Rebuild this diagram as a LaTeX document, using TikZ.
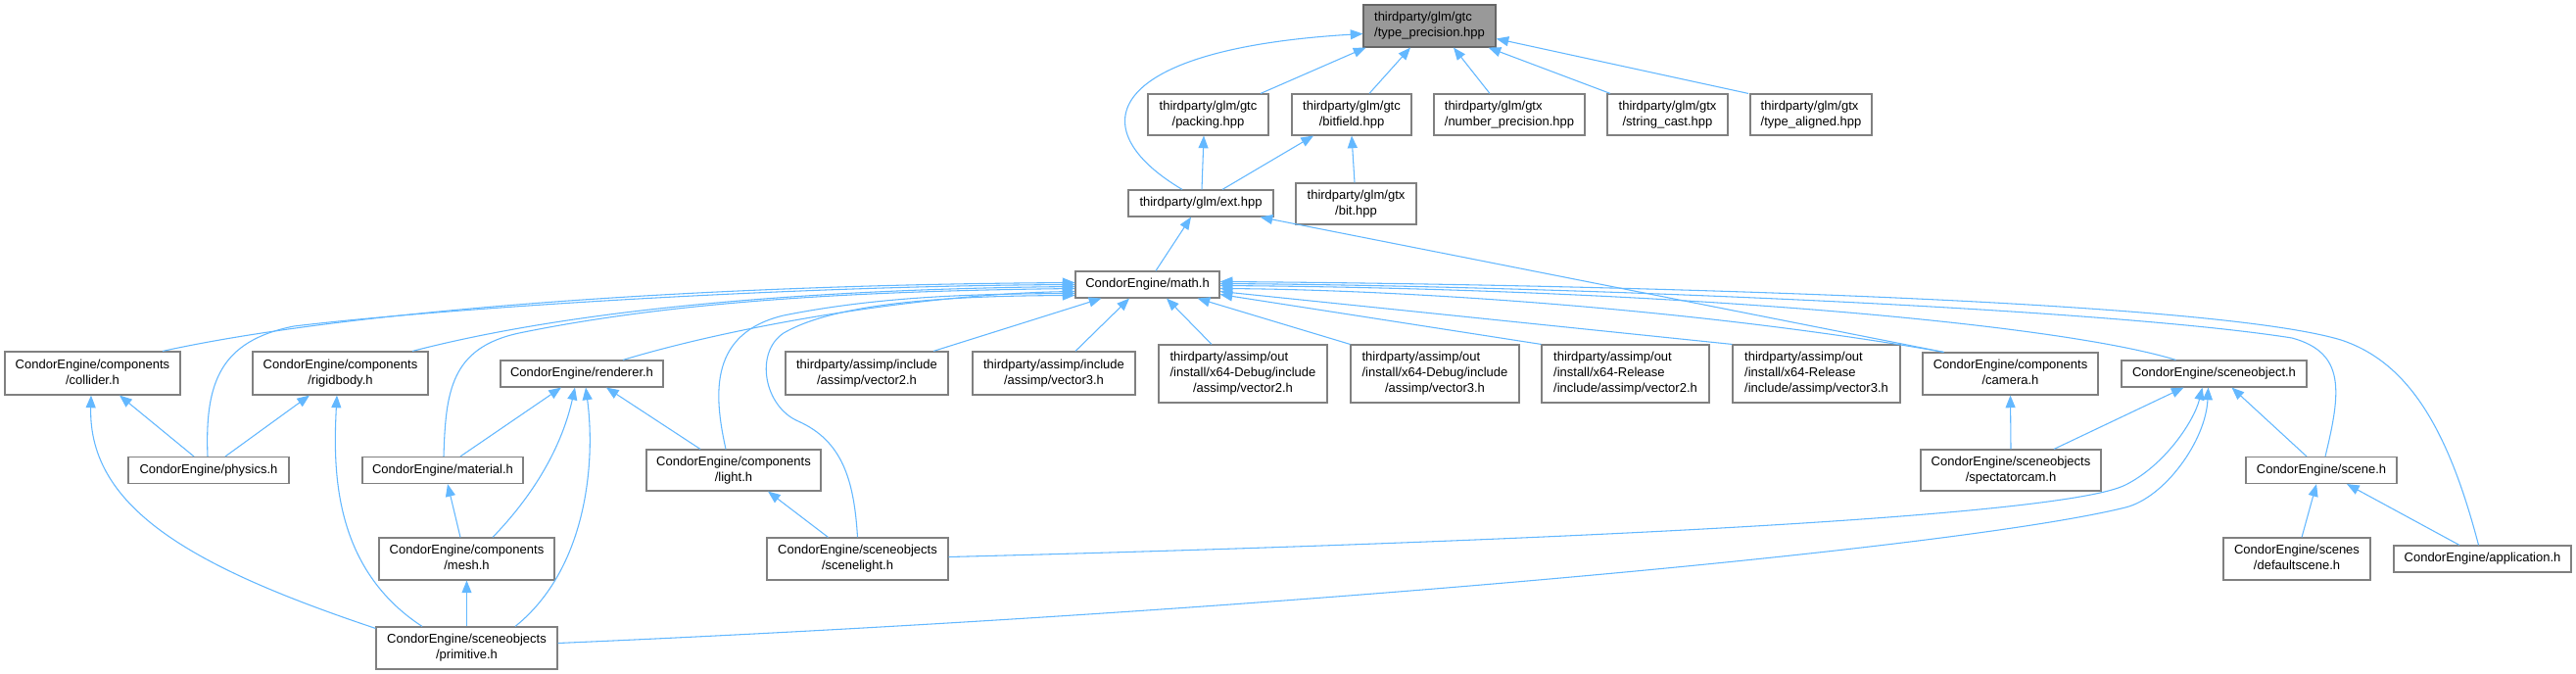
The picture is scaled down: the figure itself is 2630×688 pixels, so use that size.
\documentclass[tikz,border=0pt]{standalone}
\usepackage{fontspec}
\setmainfont{Liberation Sans}
\usetikzlibrary{arrows.meta,calc}
\definecolor{edgec}{HTML}{63B8FF}
\definecolor{bordc}{HTML}{808080}
\definecolor{rootc}{HTML}{999999}
\newcommand{\twol}[2]{\begin{tabular}{@{}l@{}}#1\\\multicolumn{1}{@{}c@{}}{#2}\end{tabular}}
\newcommand{\threel}[3]{\begin{tabular}{@{}l@{}}#1\\#2\\\multicolumn{1}{@{}c@{}}{#3}\end{tabular}}
\begin{document}
\begin{tikzpicture}[x=0.75pt,y=-0.75pt,
  box/.style={draw=bordc, line width=0.85pt, fill=white, inner sep=0pt, font=\fontsize{9.75}{12}\selectfont, text=black},
  bw/.style={minimum width=#1*0.75pt},
  bh/.style={minimum height=#1*0.75pt},
  dep/.style={draw=edgec, line width=0.8pt, -{Triangle[length=9.5pt,width=7.5pt]}}]
\fill[white] (0,0) rectangle (2630,688);
\useasboundingbox (0,0) rectangle (2630,688);

\node[box,fill=rootc,draw=black!60,bw=135,bh=43] (tp) at (1459.5,26.5) {\twol{thirdparty/glm/gtc}{/type\_precision.hpp}};
\node[box,bw=123,bh=42] (packing) at (1233.5,117) {\twol{thirdparty/glm/gtc}{/packing.hpp}};
\node[box,bw=122,bh=42] (bitfield) at (1380,117) {\twol{thirdparty/glm/gtc}{/bitfield.hpp}};
\node[box,bw=154,bh=42] (numprec) at (1541,117) {\twol{thirdparty/glm/gtx}{/number\_precision.hpp}};
\node[box,bw=123,bh=42] (strcast) at (1702.5,117) {\twol{thirdparty/glm/gtx}{/string\_cast.hpp}};
\node[box,bw=124,bh=42] (typealigned) at (1849,117) {\twol{thirdparty/glm/gtx}{/type\_aligned.hpp}};
\node[box,bw=148,bh=27] (ext) at (1226,207.5) {thirdparty/glm/ext.hpp};
\node[box,bw=123,bh=42] (bit) at (1384.5,208) {\twol{thirdparty/glm/gtx}{/bit.hpp}};
\node[box,bw=147,bh=27] (math) at (1171.5,290.5) {CondorEngine/math.h};
\node[box,bw=179,bh=44] (collider) at (94.5,381) {\twol{CondorEngine/components}{/collider.h}};
\node[box,bw=179,bh=44] (rigidbody) at (347.5,381) {\twol{CondorEngine/components}{/rigidbody.h}};
\node[box,bw=166,bh=27] (renderer) at (594,381.5) {CondorEngine/renderer.h};
\node[box,bw=166,bh=44] (vectwoinc) at (885,381) {\twol{thirdparty/assimp/include}{/assimp/vector2.h}};
\node[box,bw=166,bh=44] (vecthreeinc) at (1076,381) {\twol{thirdparty/assimp/include}{/assimp/vector3.h}};
\node[box,bw=172,bh=59] (dbgtwo) at (1269,381.5) {\threel{thirdparty/assimp/out}{/install/x64-Debug/include}{/assimp/vector2.h}};
\node[box,bw=172,bh=59] (dbgthree) at (1465,381.5) {\threel{thirdparty/assimp/out}{/install/x64-Debug/include}{/assimp/vector3.h}};
\node[box,bw=171,bh=59] (reltwo) at (1659.5,381.5) {\threel{thirdparty/assimp/out}{/install/x64-Release}{/include/assimp/vector2.h}};
\node[box,bw=171,bh=59] (relthree) at (1854.5,381.5) {\threel{thirdparty/assimp/out}{/install/x64-Release}{/include/assimp/vector3.h}};
\node[box,bw=179,bh=43] (camera) at (2052.5,381.5) {\twol{CondorEngine/components}{/camera.h}};
\node[box,bw=189,bh=27] (sceneobj) at (2260.5,381.5) {CondorEngine/sceneobject.h};
\node[box,bw=164,bh=27] (physics) at (213,480) {CondorEngine/physics.h};
\node[box,bw=164,bh=27] (material) at (452,480) {CondorEngine/material.h};
\node[box,bw=178,bh=42] (light) at (749,480) {\twol{CondorEngine/components}{/light.h}};
\node[box,bw=184,bh=42] (spectator) at (2053,480) {\twol{CondorEngine/sceneobjects}{/spectatorcam.h}};
\node[box,bw=154,bh=27] (scene) at (2370,480) {CondorEngine/scene.h};
\node[box,bw=179,bh=43] (mesh) at (476.5,570.5) {\twol{CondorEngine/components}{/mesh.h}};
\node[box,bw=185,bh=43] (scenelight) at (875.5,570.5) {\twol{CondorEngine/sceneobjects}{/scenelight.h}};
\node[box,bw=150,bh=43] (defaultscene) at (2345,570.5) {\twol{CondorEngine/scenes}{/defaultscene.h}};
\node[box,bw=181,bh=27] (application) at (2534.5,570.5) {CondorEngine/application.h};
\node[box,bw=185,bh=43] (primitive) at (476.5,661.5) {\twol{CondorEngine/sceneobjects}{/primitive.h}};

% glm
\draw[dep] ($(packing.north)+(53.5,0)$) -- ($(tp.south west)+(3,0)$);
\draw[dep] ($(bitfield.north)+(18,0)$) -- ($(tp.south)+(-19.5,0)$);
\draw[dep] ($(numprec.north)+(-20,0)$) -- ($(tp.south)+(24.5,0)$);
\draw[dep] ($(strcast.north)+(-58.5,0)$) -- ($(tp.south east)+(-8,0)$);
\draw[dep] ($(typealigned.north)+(-64,0)$) -- ($(tp.east)+(0,13)$);
\draw[dep] ($(ext.north)+(-19,0)$) .. controls (1100,130) and (1130,50) .. ($(tp.west)+(0,8)$);
\draw[dep] ($(ext.north)+(1,0)$) -- ($(packing.south)+(-4.5,0)$);
\draw[dep] ($(ext.north)+(22,0)$) -- ($(bitfield.south)+(-39,0)$);
\draw[dep] ($(bit.north)+(-1.5,0)$) -- (bitfield.south);
\draw[dep] ($(math.north)+(8.5,0)$) -- ($(ext.south)+(-10,0)$);
\draw[dep] ($(camera.north)+(-68,0)$) -- ($(ext.south east)+(-14,0)$);

% into math.h from the left
\draw[dep] ($(collider.north)+(71.5,0)$) .. controls (350,318) and (700,291) .. ($(math.west)+(0,-2)$);
\draw[dep] ($(physics.north)+(-1,0)$) .. controls (209,390) and (225,348) .. (300,333) .. controls (450,315) and (800,292) .. (math.west);
\draw[dep] ($(rigidbody.north)+(73.5,0)$) .. controls (600,312) and (850,295) .. ($(math.west)+(0,2)$);
\draw[dep] ($(material.north)+(1,0)$) .. controls (455,400) and (460,355) .. (530,340) .. controls (700,305) and (900,297) .. ($(math.west)+(0,4)$);
\draw[dep] ($(renderer.north)+(42,0)$) .. controls (760,330) and (950,300) .. ($(math.west)+(0,7)$);
\draw[dep] ($(light.north)+(-8,0)$) .. controls (728,400) and (725,340) .. (800,322) .. controls (900,302) and (1000,300) .. ($(math.west)+(0,9)$);
\draw[dep] (scenelight.north) .. controls (872,490) and (860,450) .. (815,430) .. controls (780,415) and (770,360) .. (800,340) .. controls (860,305) and (1000,302) .. ($(math.west)+(0,11)$);

% into math.h from below
\draw[dep] ($(vectwoinc.north)+(68,0)$) -- ($(math.south west)+(27,0)$);
\draw[dep] ($(vecthreeinc.north)+(22,0)$) -- ($(math.south)+(-18.5,0)$);
\draw[dep] ($(dbgtwo.north)+(-32,0)$) -- ($(math.south)+(19.5,0)$);
\draw[dep] (dbgthree.north west) -- ($(math.south east)+(-23,0)$);

% into math.h from the right
\draw[dep] (reltwo.north west) -- ($(math.east)+(0,10)$);
\draw[dep] (relthree.north west) -- ($(math.east)+(0,7)$);
\draw[dep] ($(camera.north)+(-68,0)$) .. controls (1750,318) and (1450,296) .. ($(math.east)+(0,4)$);
\draw[dep] ($(sceneobj.north)+(-39,0)$) .. controls (2100,330) and (1700,295) .. ($(math.east)+(0,1)$);
\draw[dep] ($(scene.north)+(4,0)$) .. controls (2390,400) and (2395,360) .. (2340,345) .. controls (2150,315) and (1600,292) .. ($(math.east)+(0,-1)$);
\draw[dep] ($(application.north)+(-4,0)$) .. controls (2500,440) and (2460,370) .. (2390,347) .. controls (2250,305) and (1600,290) .. ($(math.east)+(0,-3)$);

% lower part
\draw[dep] ($(physics.north)+(-15,0)$) -- ($(collider.south)+(27.5,0)$);
\draw[dep] ($(physics.north)+(17,0)$) -- ($(rigidbody.south)+(-31.5,0)$);
\draw[dep] ($(primitive.north west)+(0,2)$) .. controls (200,580) and (90,520) .. ($(collider.south)+(-1.5,0)$);
\draw[dep] ($(primitive.north)+(-45.5,0)$) .. controls (340,580) and (340,480) .. ($(rigidbody.south)+(-3.5,0)$);
\draw[dep] ($(material.north)+(18,0)$) -- ($(renderer.south)+(-21,0)$);
\draw[dep] ($(mesh.north)+(26.5,0)$) .. controls (550,500) and (575,450) .. ($(renderer.south)+(-7,0)$);
\draw[dep] ($(primitive.north)+(49.5,0)$) .. controls (600,580) and (608,470) .. ($(renderer.south)+(4,0)$);
\draw[dep] ($(light.north)+(-34,0)$) -- ($(renderer.south)+(25,0)$);
\draw[dep] ($(mesh.north)+(-6.5,0)$) -- ($(material.south)+(5,0)$);
\draw[dep] (primitive.north) -- (mesh.south);
\draw[dep] ($(scenelight.north)+(-30,0)$) -- ($(light.south)+(35,0)$);
\draw[dep] ($(scenelight.east)+(0,-2)$) .. controls (1500,555) and (2100,530) .. (2170,495) .. controls (2210,475) and (2240,430) .. ($(sceneobj.south)+(-12,0)$);
\draw[dep] ($(primitive.east)+(0,-5)$) .. controls (1300,625) and (2000,560) .. (2170,518) .. controls (2210,508) and (2252,450) .. ($(sceneobj.south)+(-6,0)$);
\draw[dep] (spectator.north) -- (camera.south);
\draw[dep] ($(spectator.north)+(44,0)$) -- ($(sceneobj.south)+(-31,0)$);
\draw[dep] ($(scene.north)+(-15,0)$) -- ($(sceneobj.south)+(18,0)$);
\draw[dep] ($(defaultscene.north)+(5,0)$) -- ($(scene.south)+(-5,0)$);
\draw[dep] ($(application.north)+(-23.5,0)$) -- ($(scene.south)+(26,0)$);
\end{tikzpicture}
\end{document}
